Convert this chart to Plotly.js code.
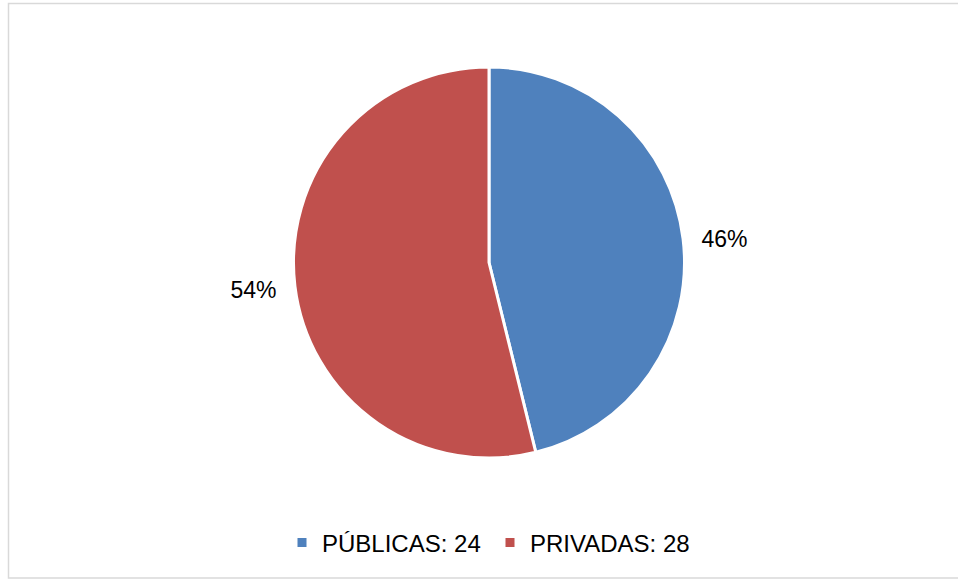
<!DOCTYPE html>
<html>
<head>
<meta charset="utf-8">
<script src="https://cdn.plot.ly/plotly-3.0.1.min.js"></script>
<style>html,body{margin:0;padding:0;background:#fff;overflow:hidden;}#chart{width:958px;height:579px;}</style>
</head>
<body>
<div id="chart"></div>
<script>
const categories = ["PÚBLICAS", "PRIVADAS"];
const values = [24, 28];
const colors = ["#4F81BD", "#C0504D"];

const legendLabels = categories.map((c, i) => c + ": " + values[i]);
const FONT = "Liberation Sans, Arial, sans-serif";

const pieTrace = {
  type: "pie",
  labels: legendLabels,
  values: values,
  sort: false,
  direction: "clockwise",
  rotation: 0,
  marker: { colors: colors, line: { color: "#ffffff", width: 3 } },
  textinfo: "none",
  hoverinfo: "label+percent",
  domain: { x: [293 / 958, 685 / 958], y: [121 / 579, 512 / 579] }
};

// transparent companion pie, slightly larger, used only to place percentage labels
const labelTrace = {
  type: "pie",
  labels: legendLabels,
  values: values,
  sort: false,
  direction: "clockwise",
  rotation: 0,
  showlegend: false,
  marker: { colors: ["rgba(0,0,0,0)", "rgba(0,0,0,0)"], line: { width: 0 } },
  texttemplate: "%{percent:.0%}",
  textposition: "outside",
  outsidetextfont: { family: FONT, size: 23, color: "#000000" },
  hoverinfo: "skip",
  domain: { x: [281 / 958, 697 / 958], y: [107 / 579, 522 / 579] }
};

const layout = {
  width: 958,
  height: 579,
  margin: { l: 0, r: 0, t: 0, b: 0 },
  paper_bgcolor: "#ffffff",
  showlegend: true,
  legend: {
    orientation: "h",
    x: 0.5 + 11 / 958, xanchor: "center",
    y: 36 / 579, yanchor: "middle",
    font: { family: FONT, size: 24, color: "#000000" },
    itemwidth: 30,
    entrywidth: 163,
    entrywidthmode: "pixels"
  },
  shapes: [{
    type: "rect", xref: "paper", yref: "paper",
    x0: 8.5 / 958, x1: 1.05, y0: 1 / 579, y1: 575.5 / 579,
    line: { color: "#d9d9d9", width: 1.5 }, fillcolor: "rgba(0,0,0,0)", layer: "below"
  }]
};

Plotly.newPlot("chart", [pieTrace, labelTrace], layout, { displayModeBar: false, staticPlot: true });
</script>
</body>
</html>
